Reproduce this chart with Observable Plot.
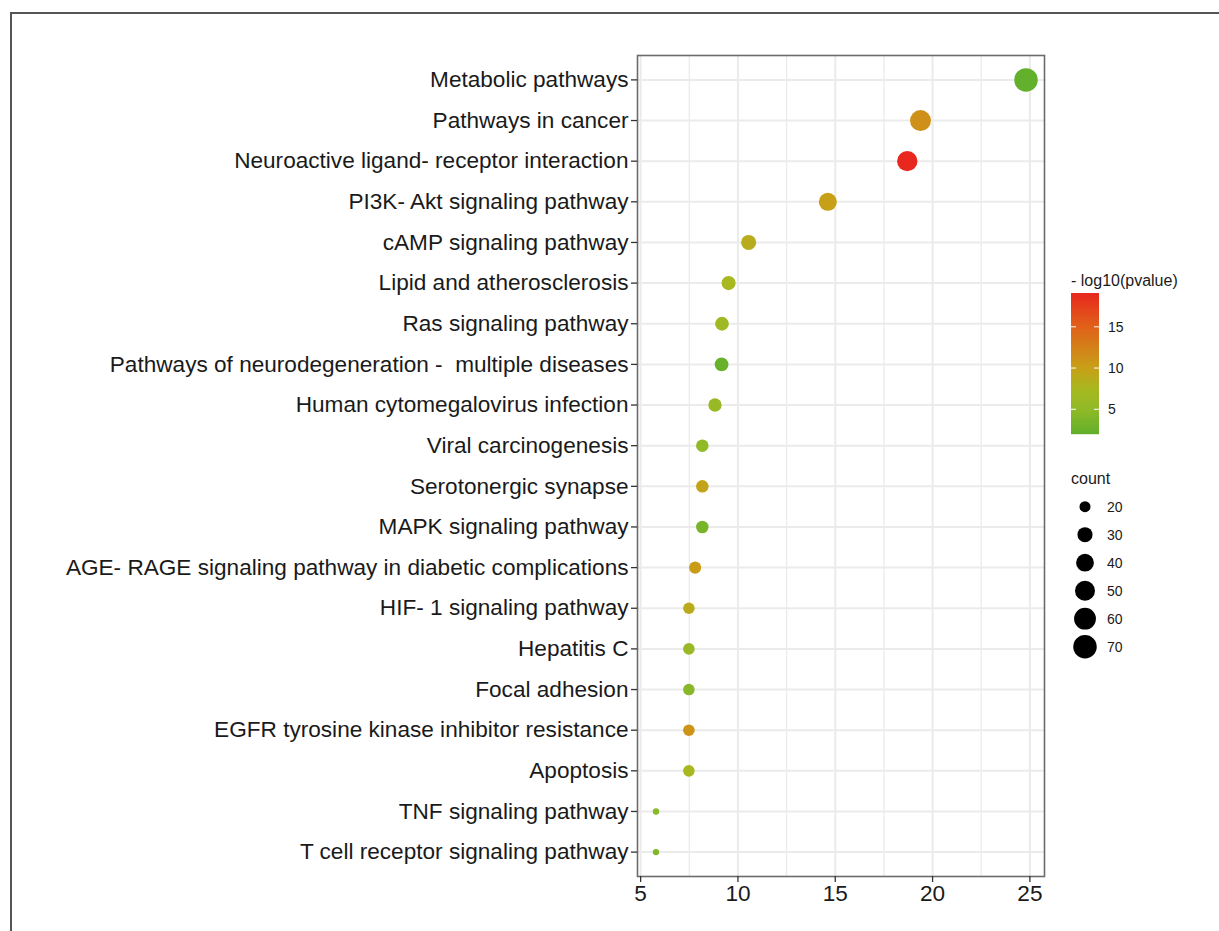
<!DOCTYPE html>
<html><head><meta charset="utf-8">
<script src="https://cdn.jsdelivr.net/npm/d3@7"></script>
<script src="https://cdn.jsdelivr.net/npm/@observablehq/plot@0.6"></script>
<style>
html,body{margin:0;padding:0;background:#fff;}
#wrap{position:relative;width:1219px;height:931px;overflow:hidden;font-family:"Liberation Sans",Arial,sans-serif;background:#fff;}
#frame{position:absolute;left:10px;top:12px;width:1300px;height:1000px;border-top:2px solid #555;border-left:2px solid #555;}
#chart,#legend{position:absolute;left:0;top:0;}
</style></head><body>
<div id="wrap"><div id="frame"></div><div id="chart"></div><svg id="legend" width="1219" height="931"></svg></div>
<script>
const terms = [
  "Metabolic pathways",
  "Pathways in cancer",
  "Neuroactive ligand- receptor interaction",
  "PI3K- Akt signaling pathway",
  "cAMP signaling pathway",
  "Lipid and atherosclerosis",
  "Ras signaling pathway",
  "Pathways of neurodegeneration -  multiple diseases",
  "Human cytomegalovirus infection",
  "Viral carcinogenesis",
  "Serotonergic synapse",
  "MAPK signaling pathway",
  "AGE- RAGE signaling pathway in diabetic complications",
  "HIF- 1 signaling pathway",
  "Hepatitis C",
  "Focal adhesion",
  "EGFR tyrosine kinase inhibitor resistance",
  "Apoptosis",
  "TNF signaling pathway",
  "T cell receptor signaling pathway"
];
const ratio = [24.8, 19.38, 18.7, 14.62, 10.55, 9.52, 9.18, 9.16, 8.82, 8.17, 8.17, 8.17, 7.8, 7.48, 7.48, 7.48, 7.48, 7.48, 5.79, 5.79];
const counts = [70, 55, 52, 41, 30, 27, 26, 26, 25, 23, 23, 23, 22, 21, 21, 21, 21, 21, 16, 16];
const logp = [2.0, 11.3, 19.1, 10.0, 8.8, 7.5, 6.5, 2.3, 5.8, 5.0, 9.6, 3.5, 10.3, 9.0, 5.8, 4.5, 11.0, 7.5, 4.6, 4.0];
const xTicks = [5, 10, 15, 20, 25];
const colorTicks = [5, 10, 15];
const sizeBreaks = [20, 30, 40, 50, 60, 70];

const data = terms.map((t, i) => ({term: t, ratio: ratio[i], count: counts[i], logp: logp[i]}));

const [cMin, cMax] = d3.extent(counts);
const areaNorm = c => Math.sqrt(Math.max(0, (c - cMin) / (cMax - cMin)));
const [xMin, xMax] = d3.extent(ratio);
const xPad = (xMax - xMin) * 0.05;
const minorTicks = d3.pairs(xTicks).map(([a, b]) => (a + b) / 2);

// gradient colour stops (style)
const [pMin, pMax] = d3.extent(logp);
const gradStops = [pMin, 5, 7.5, 10, 15, pMax];
const gradColors = ["#62B02C", "#90BA28", "#A8B820", "#C8A018", "#E0621A", "#E8281E"];

const font = "'Liberation Sans', Arial, sans-serif";
const grid = "#EBEBEB";

const chart = Plot.plot({
  width: 1219,
  height: 931,
  marginLeft: 637,
  marginRight: 175,
  marginTop: 55,
  marginBottom: 55,
  style: {fontFamily: font, fontSize: "22.6px", color: "#1a1a1a", background: "transparent", overflow: "visible"},
  x: {domain: [xMin - xPad, xMax + xPad], label: null},
  y: {type: "point", domain: terms, padding: 0.6, round: false, label: null},
  r: {type: "linear", domain: [0, 1], range: [3.2, 11.75]},
  color: {type: "linear", domain: gradStops, range: gradColors, interpolate: "rgb"},
  marks: [
    Plot.ruleX(minorTicks, {stroke: grid, strokeWidth: 1.3}),
    Plot.ruleX(xTicks, {stroke: grid, strokeWidth: 2}),
    Plot.ruleY(terms, {stroke: grid, strokeWidth: 2}),
    Plot.frame({stroke: "#6b6b6b", strokeWidth: 1.6}),
    Plot.axisX({ticks: xTicks, tickSize: 6, tickPadding: 2, stroke: "#333", strokeWidth: 1.3, fontSize: 22.6, label: null}),
    Plot.axisY({tickSize: 6, tickPadding: 3, stroke: "#333", strokeWidth: 1.3, fontSize: 22.6, label: null}),
    Plot.dot(data, {x: "ratio", y: "term", r: d => areaNorm(d.count), fill: "logp", stroke: null})
  ]
});
document.getElementById("chart").appendChild(chart);

// Legends drawn with the chart's own scales
const cs = chart.scale("color");
const rs = chart.scale("r");
const svg = d3.select("#legend");
svg.style("font-family", font);

// colour bar
const barX = 1071, barW = 28, barTop = 293, barBot = 434;
const yBar = d3.scaleLinear().domain([pMin, pMax]).range([barBot, barTop]);
svg.append("text").attr("x", barX).attr("y", 280).attr("dy", "0.35em")
  .attr("font-size", 16).attr("fill", "#1a1a1a").text("- log10(pvalue)");
const nSteps = barBot - barTop;
for (let i = 0; i < nSteps; i++) {
  const v = yBar.invert(barBot - i - 0.5);
  svg.append("rect").attr("x", barX).attr("y", barBot - i - 1).attr("width", barW).attr("height", 1.2)
    .attr("fill", cs.apply(v));
}
for (const t of colorTicks) {
  const y = yBar(t);
  svg.append("line").attr("x1", barX).attr("x2", barX + 5).attr("y1", y).attr("y2", y).attr("stroke", "#fff").attr("stroke-width", 1);
  svg.append("line").attr("x1", barX + barW - 5).attr("x2", barX + barW).attr("y1", y).attr("y2", y).attr("stroke", "#fff").attr("stroke-width", 1);
  svg.append("text").attr("x", 1108).attr("y", y).attr("dy", "0.35em").attr("font-size", 14).attr("fill", "#1a1a1a").text(t);
}

// size legend
svg.append("text").attr("x", barX).attr("y", 478).attr("dy", "0.35em")
  .attr("font-size", 16).attr("fill", "#1a1a1a").text("count");
sizeBreaks.forEach((b, i) => {
  const y = 506.7 + i * 28;
  svg.append("circle").attr("cx", 1085).attr("cy", y).attr("r", rs.apply(areaNorm(b))).attr("fill", "#000");
  svg.append("text").attr("x", 1107).attr("y", y).attr("dy", "0.35em").attr("font-size", 14).attr("fill", "#1a1a1a").text(b);
});
</script>
</body></html>
